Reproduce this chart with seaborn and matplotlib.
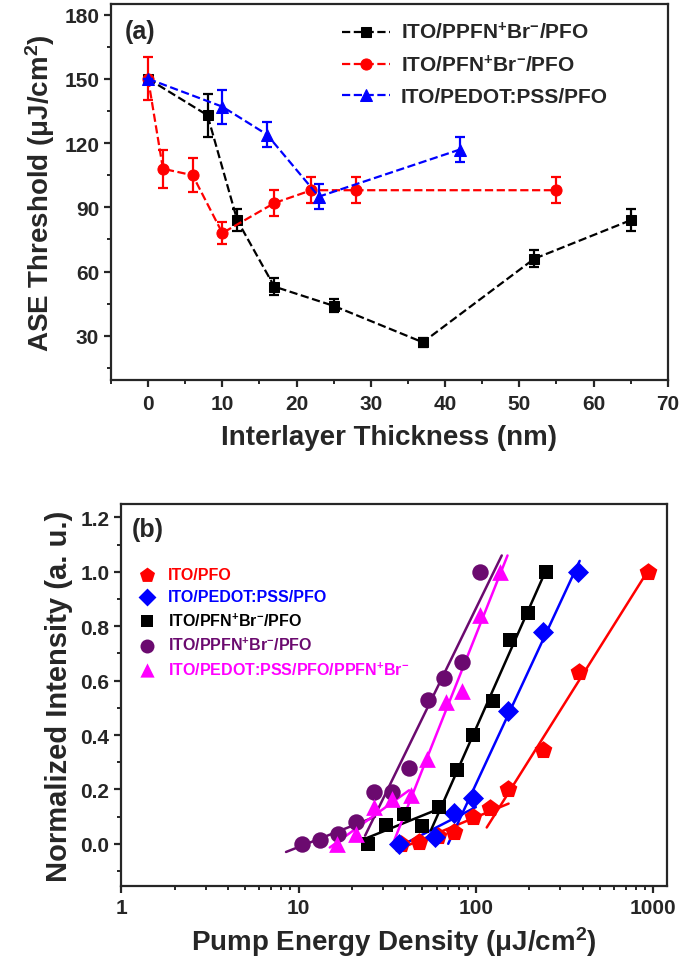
import numpy as np
import seaborn as sns
import matplotlib
matplotlib.use("Agg")
from matplotlib import pyplot as plt
from matplotlib.ticker import MultipleLocator, LogLocator, NullFormatter, FixedLocator, FormatStrFormatter

# ---- panel (a): ASE threshold vs interlayer thickness ----
thick_ppfn = [0, 8, 12, 17, 25, 37, 52, 65]
ase_ppfn = [150, 133, 84, 53, 44, 27, 66, 84]
err_ppfn = [0, 10, 5, 4, 3, 2, 4, 5]

thick_pfn = [0, 2, 6, 10, 17, 22, 28, 55]
ase_pfn = [150, 108, 105, 78, 92, 98, 98, 98]
err_pfn = [10, 9, 8, 5, 6, 6, 6, 6]

thick_pedot = [0, 10, 16, 23, 42]
ase_pedot = [150, 137, 124, 95, 117]
err_pedot = [0, 8, 6, 6, 6]

labels_a = ["ITO/PPFN$^{+}$Br$^{-}$/PFO", "ITO/PFN$^{+}$Br$^{-}$/PFO", "ITO/PEDOT:PSS/PFO"]

# ---- panel (b): normalized intensity vs pump energy density ----
pump_pfo = [38, 47.6, 61, 75, 96, 120, 151, 239, 381, 936]
int_pfo = [0.0, 0.007, 0.03, 0.045, 0.10, 0.13, 0.20, 0.345, 0.63, 1.0]

pump_pedot = [36.7, 59, 75, 96, 151, 239, 377]
int_pedot = [0.0, 0.025, 0.115, 0.17, 0.49, 0.78, 1.0]

pump_pfn = [24.5, 31, 39.5, 49.5, 62, 78, 96, 125, 156, 197, 248]
int_pfn = [0.0, 0.07, 0.11, 0.065, 0.135, 0.27, 0.40, 0.525, 0.75, 0.85, 1.0]

pump_ppfn = [10.5, 13.2, 16.8, 21, 26.6, 33.5, 42, 53.5, 66, 84, 105]
int_ppfn = [0.0, 0.015, 0.035, 0.08, 0.19, 0.19, 0.28, 0.53, 0.61, 0.67, 1.0]

pump_multi = [16.4, 21, 26.6, 33.5, 43, 53, 68, 84, 105, 137]
int_multi = [0.0, 0.035, 0.135, 0.165, 0.18, 0.31, 0.52, 0.56, 0.84, 1.0]

labels_b = ["ITO/PFO", "ITO/PEDOT:PSS/PFO", "ITO/PFN$^{+}$Br$^{-}$/PFO",
            "ITO/PPFN$^{+}$Br$^{-}$/PFO", "ITO/PEDOT:PSS/PFO/PPFN$^{+}$Br$^{-}$"]

# points used for the two linear fits (below / above threshold)
n_low = [6, 3, 5, 4, 5]
n_high = [4, 4, 6, 7, 6]
# extent of the fit lines
low_x_range = [(36, 153), (36, 100), (24, 58), (8.5, 27), (15, 42)]
high_y_range = [(0.06, 1.0), (0.0, 1.04), (0.05, 1.0), (0.03, 1.06), (0.0, 1.06)]

sns.set_theme(style="ticks")
plt.rcParams["font.family"] = ["Liberation Sans", "DejaVu Sans"]
plt.rcParams["font.weight"] = "bold"
plt.rcParams["axes.labelweight"] = "bold"
plt.rcParams["mathtext.fontset"] = "custom"
plt.rcParams["mathtext.rm"] = "Liberation Sans"
plt.rcParams["mathtext.default"] = "regular"
plt.rcParams["axes.linewidth"] = 1.6
plt.rcParams["xtick.major.width"] = 1.6
plt.rcParams["ytick.major.width"] = 1.6
plt.rcParams["xtick.minor.width"] = 1.4
plt.rcParams["ytick.minor.width"] = 1.4
plt.rcParams["xtick.major.size"] = 5
plt.rcParams["ytick.major.size"] = 5
plt.rcParams["xtick.minor.size"] = 3
plt.rcParams["ytick.minor.size"] = 3

fig = plt.figure(figsize=(6.85, 9.7), dpi=100)

# ------------------------- panel (a) -------------------------
ax1 = fig.add_axes([0.162, 0.607, 0.813, 0.388])
series_a = [
    (thick_ppfn, ase_ppfn, err_ppfn, "black", "s", 7),
    (thick_pfn, ase_pfn, err_pfn, "#ff0000", "o", 8),
    (thick_pedot, ase_pedot, err_pedot, "#0000ff", "^", 8.5),
]
for (xs, ys, es, c, m, ms), lab in zip(series_a, labels_a):
    sns.lineplot(x=xs, y=ys, ax=ax1, color=c, marker=m, markersize=ms,
                 markeredgecolor=c, linestyle="--", dashes=(5, 3.5), linewidth=1.6,
                 label=lab, sort=False)
    ax1.errorbar(xs, ys, yerr=es, fmt="none", ecolor=c, elinewidth=1.6,
                 capsize=3.5, capthick=1.6)

ax1.set_xlim(-5, 70)
ax1.set_ylim(9.3, 185)
ax1.xaxis.set_major_locator(MultipleLocator(10))
ax1.xaxis.set_minor_locator(MultipleLocator(5))
ax1.yaxis.set_major_locator(FixedLocator([30, 60, 90, 120, 150, 180]))
ax1.yaxis.set_minor_locator(FixedLocator([15, 45, 75, 105, 135, 165]))
ax1.tick_params(axis="both", which="both", direction="out", labelsize=15,
                top=False, right=False)
ax1.tick_params(axis="x", which="major", pad=5)
ax1.set_xlabel("Interlayer Thickness (nm)", fontsize=20, labelpad=8)
ax1.set_ylabel(r"ASE Threshold $\mathrm{(\mu J/cm^2)}$", fontsize=20, labelpad=5)
ax1.text(0.025, 0.96, "(a)", transform=ax1.transAxes, fontsize=18,
         fontweight="bold", va="top", ha="left")
ax1.legend(loc="upper right", bbox_to_anchor=(0.907, 0.975), frameon=False,
           fontsize=15, handlelength=2.3, handletextpad=0.5, labelspacing=0.55,
           borderaxespad=0.0)

# ------------------------- panel (b) -------------------------
ax2 = fig.add_axes([0.177, 0.0856, 0.797, 0.394])
series_b = [
    (pump_pfo, int_pfo, "#ff0000", "p", 180),
    (pump_pedot, int_pedot, "#0000ff", "D", 115),
    (pump_pfn, int_pfn, "black", "s", 115),
    (pump_ppfn, int_ppfn, "#6b0a6f", "o", 140),
    (pump_multi, int_multi, "#ff00ff", "^", 145),
]
for i, ((xs, ys, c, m, s), lab) in enumerate(zip(series_b, labels_b)):
    lx = np.log10(xs)
    yv = np.asarray(ys)
    a_lo, b_lo = np.polyfit(lx[:n_low[i]], yv[:n_low[i]], 1)
    a_hi, b_hi = np.polyfit(lx[-n_high[i]:], yv[-n_high[i]:], 1)
    x_lo = np.array(low_x_range[i])
    y_lo = a_lo * np.log10(x_lo) + b_lo
    y_hi = np.array(high_y_range[i])
    x_hi = 10 ** ((y_hi - b_hi) / a_hi)
    ax2.plot(x_lo, y_lo, color=c, linewidth=1.8, zorder=2)
    ax2.plot(x_hi, y_hi, color=c, linewidth=1.8, zorder=2)
    sns.scatterplot(x=xs, y=ys, ax=ax2, color=c, marker=m, s=s, linewidth=0,
                    label=lab, zorder=3)

ax2.set_xscale("log")
ax2.set_xlim(1, 1200)
ax2.set_ylim(-0.155, 1.25)
ax2.xaxis.set_minor_locator(LogLocator(base=10, subs=np.arange(2, 10), numticks=20))
ax2.xaxis.set_minor_formatter(NullFormatter())
ax2.set_xticks([1, 10, 100, 1000])
ax2.set_xticklabels(["1", "10", "100", "1000"])
ax2.yaxis.set_major_locator(MultipleLocator(0.2))
ax2.yaxis.set_minor_locator(MultipleLocator(0.1))
ax2.yaxis.set_major_formatter(FormatStrFormatter("%.1f"))
ax2.tick_params(axis="both", which="both", direction="out", labelsize=15,
                top=False, right=False)
ax2.set_xlabel(r"Pump Energy Density $\mathrm{(\mu J/cm^2)}$", fontsize=20, labelpad=5)
ax2.set_ylabel("Normalized Intensity (a. u.)", fontsize=21, labelpad=5)
ax2.text(0.02, 0.966, "(b)", transform=ax2.transAxes, fontsize=18,
         fontweight="bold", va="top", ha="left")
leg2 = ax2.legend(loc="upper left", bbox_to_anchor=(0.0, 0.86), frameon=False,
                  fontsize=11.5, handletextpad=0.3, labelspacing=0.45,
                  borderaxespad=0.2, markerscale=0.85)
for txt, (_, _, c, _, _) in zip(leg2.get_texts(), series_b):
    txt.set_color(c)

fig.savefig("out.png", dpi=100)
